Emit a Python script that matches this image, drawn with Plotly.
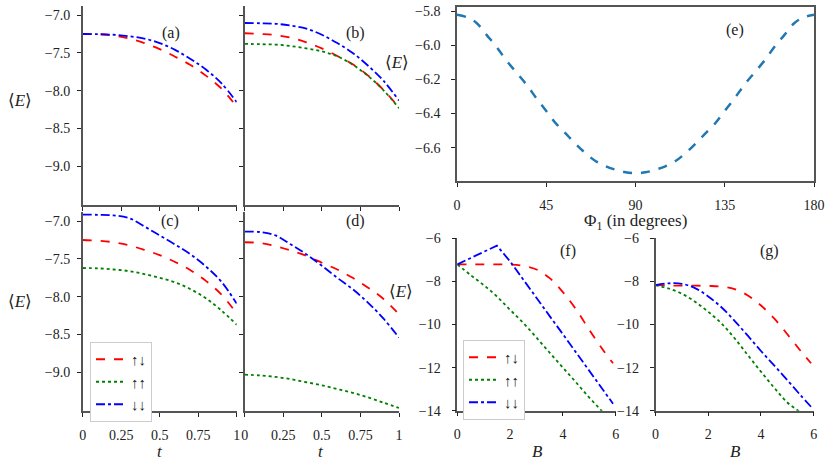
import plotly.graph_objects as go

# t panels (a)-(d)
t = [0, 0.1, 0.2, 0.3, 0.4, 0.5, 0.6, 0.7, 0.8, 0.9, 1.0]

a_ud = [-7.25, -7.255, -7.27, -7.31, -7.37, -7.45, -7.55, -7.66, -7.80, -7.97, -8.21]
a_dd = [-7.25, -7.252, -7.26, -7.28, -7.31, -7.37, -7.46, -7.58, -7.72, -7.90, -8.15]

b_ud = [-7.24, -7.25, -7.265, -7.30, -7.36, -7.44, -7.54, -7.65, -7.80, -7.99, -8.22]
b_uu = [-7.38, -7.385, -7.39, -7.41, -7.44, -7.48, -7.545, -7.655, -7.805, -7.995, -8.23]
b_dd = [-7.105, -7.108, -7.115, -7.14, -7.18, -7.26, -7.37, -7.50, -7.67, -7.87, -8.13]

c_ud = [-7.25, -7.26, -7.28, -7.32, -7.38, -7.45, -7.54, -7.65, -7.79, -7.97, -8.22]
c_uu = [-7.62, -7.625, -7.64, -7.66, -7.70, -7.75, -7.81, -7.90, -8.02, -8.18, -8.37]
c_dd = [-6.915, -6.917, -6.925, -6.96, -7.07, -7.19, -7.31, -7.44, -7.60, -7.80, -8.09]

d_ud = [-7.28, -7.29, -7.33, -7.39, -7.46, -7.55, -7.64, -7.75, -7.88, -8.03, -8.23]
d_uu = [-9.03, -9.04, -9.06, -9.09, -9.13, -9.17, -9.22, -9.27, -9.33, -9.40, -9.47]
d_dd = [-7.14, -7.145, -7.19, -7.31, -7.44, -7.59, -7.75, -7.90, -8.08, -8.29, -8.54]

# panel (e)
phi = list(range(0, 181, 5))
e_E = [-5.82, -5.835, -5.87, -5.94, -6.01, -6.09, -6.16, -6.23, -6.31, -6.385,
       -6.46, -6.52, -6.58, -6.635, -6.68, -6.71, -6.73, -6.745, -6.75,
       -6.745, -6.73, -6.71, -6.68, -6.635, -6.58, -6.52, -6.46, -6.385,
       -6.31, -6.23, -6.16, -6.09, -6.01, -5.94, -5.87, -5.835, -5.82]

# B panels (f), (g)
B = [0, 0.5, 1.0, 1.5, 2.0, 2.5, 3.0, 3.5, 4.0, 4.5, 5.0, 5.5, 5.9]

f_ud = [-7.21, -7.21, -7.21, -7.21, -7.22, -7.28, -7.45, -7.85, -8.50, -9.30, -10.25, -11.15, -11.8]
f_uu = [-7.21, -7.70, -8.17, -8.70, -9.32, -9.93, -10.61, -11.31, -12.00, -12.69, -13.39, -14.05, -14.6]
f_dd = [-7.21, -6.92, -6.63, -6.34, -7.07, -7.90, -8.76, -9.61, -10.45, -11.29, -12.14, -12.99, -13.68]

g_ud = [-8.17, -8.19, -8.20, -8.20, -8.21, -8.24, -8.36, -8.65, -9.12, -9.72, -10.45, -11.22, -11.8]
g_uu = [-8.17, -8.33, -8.57, -8.94, -9.41, -9.95, -10.64, -11.42, -12.19, -12.93, -13.62, -14.1, -14.7]
g_dd = [-8.17, -8.09, -8.11, -8.31, -8.70, -9.20, -9.83, -10.52, -11.23, -11.90, -12.58, -13.28, -13.82]

labels = ['↑↓', '↑↑', '↓↓']
colors = ['red', 'green', 'blue']
dashes = ['dash', 'dot', 'dashdot']

W, H = 831, 462
FONT = 'Liberation Serif, DejaVu Serif, serif'


def px(x):
    return x / W


def py(y):
    return 1 - y / H


fig = go.Figure()


def add_set(xs, series, ax, legend=None, shape='spline'):
    for i, ys in enumerate(series):
        if ys is None:
            continue
        fig.add_trace(go.Scatter(
            x=xs, y=ys, mode='lines', name=labels[i],
            line=dict(color=colors[i], dash=dashes[i], width=1.8, shape=shape),
            xaxis='x' + ax, yaxis='y' + ax,
            showlegend=legend is not None,
            legend=legend if legend else 'legend',
        ))


add_set(t, [a_ud, None, a_dd], '')
add_set(t, [b_ud, b_uu, b_dd], '2')
add_set(t, [c_ud, c_uu, c_dd], '3', legend='legend')
add_set(t, [d_ud, d_uu, d_dd], '4')
fig.add_trace(go.Scatter(x=phi, y=e_E, mode='lines', showlegend=False,
                         line=dict(color='#1f77b4', dash='dash', width=2.5, shape='spline'),
                         xaxis='x5', yaxis='y5'))
add_set(B, [f_ud, f_uu, None], '6', legend='legend2')
fig.add_trace(go.Scatter(x=B, y=f_dd, mode='lines', name=labels[2], legend='legend2',
                         line=dict(color='blue', dash='dashdot', width=1.8),
                         xaxis='x6', yaxis='y6'))
add_set(B, [g_ud, g_uu, g_dd], '7')


def axis(dom, rng, anchor, tickvals, ticktext=None, labels_on=True, mirror=False, gap=6):
    d = dict(domain=dom, range=rng, anchor=anchor, showline=True, linecolor='#555',
             linewidth=1.5, ticks='outside', ticklen=4, tickwidth=1.2, tickcolor='#222',
             showgrid=False, zeroline=False, tickvals=tickvals, automargin=False,
             showticklabels=labels_on, mirror=mirror, ticklabelstandoff=gap,
             tickfont=dict(family=FONT, size=14, color='#222'))
    if ticktext is not None:
        d['ticktext'] = ticktext
    return d


t_ticks = [0, 0.25, 0.5, 0.75, 1]
t_text = ['0', '0.25', '0.5', '0.75', '1']
E_ticks = [-7.0, -7.5, -8.0, -8.5, -9.0]
E_text = ['−7.0', '−7.5', '−8.0', '−8.5', '−9.0']
E_rng = [-9.51, -6.88]

xa = [px(82.7), px(236.7)]
xb = [px(244.7), px(399)]
ytop = [py(205), py(6)]
ybot = [py(411), py(212)]

B_ticks = [0, 2, 4, 6]
Bt_text = ['0', '2', '4', '6']
F_ticks = [-6, -8, -10, -12, -14]
F_text = ['−6', '−8', '−10', '−12', '−14']

leg_style = dict(xanchor='left', yanchor='top', bordercolor='#ccc', borderwidth=1,
                 bgcolor='white', tracegroupgap=0,
                 font=dict(family=FONT, size=15, color='#222'))

fig.update_layout(
    xaxis=axis(xa, [0, 1], 'y', t_ticks, labels_on=False),
    yaxis=axis(ytop, E_rng, 'x', E_ticks, E_text, gap=4),
    xaxis2=axis(xb, [0, 1], 'y2', t_ticks, labels_on=False),
    yaxis2=axis(ytop, E_rng, 'x2', E_ticks, labels_on=False),
    xaxis3=axis(xa, [0, 1], 'y3', t_ticks, t_text),
    yaxis3=axis(ybot, E_rng, 'x3', E_ticks, E_text, gap=4),
    xaxis4=axis(xb, [0, 1], 'y4', t_ticks, t_text),
    yaxis4=axis(ybot, E_rng, 'x4', E_ticks, labels_on=False),
    xaxis5=axis([px(457), px(814)], [0, 180], 'y5', [0, 45, 90, 135, 180],
                ['0', '45', '90', '135', '180'], mirror=True),
    yaxis5=axis([py(181), py(7)], [-6.796, -5.775], 'x5', [-5.8, -6.0, -6.2, -6.4, -6.6],
                ['−5.8', '−6.0', '−6.2', '−6.4', '−6.6'], mirror=True, gap=8),
    xaxis6=axis([px(457.3), px(615.7)], [0, 6], 'y6', B_ticks, Bt_text),
    yaxis6=axis([py(410.7), py(238.3)], [-14, -6], 'x6', F_ticks, F_text, gap=8),
    xaxis7=axis([px(655.5), px(813.7)], [0, 6], 'y7', B_ticks, Bt_text),
    yaxis7=axis([py(410.7), py(238.3)], [-14, -6], 'x7', F_ticks, F_text, gap=8),
    legend=dict(x=px(90), y=py(342), **leg_style),
    legend2=dict(x=px(463), y=py(340), **leg_style),
    width=W, height=H, autosize=False,
    margin=dict(l=0, r=0, t=0, b=0, pad=0),
    plot_bgcolor='white', paper_bgcolor='white',
    font=dict(family=FONT, color='#222'),
)

notes = [
    ('⟨<i>E</i>⟩', 20, 100, 17), ('⟨<i>E</i>⟩', 20, 301, 17),
    ('⟨<i>E</i>⟩', 397, 63, 17), ('⟨<i>E</i>⟩', 401, 291, 17),
    ('<i>t</i>', 160, 451, 17), ('<i>t</i>', 321, 451, 17),
    ('<i>B</i>', 537, 451, 17), ('<i>B</i>', 735, 451, 17),
    ('Φ<sub>1</sub> (in degrees)', 635, 222, 17),
    ('(a)', 171, 33, 16), ('(b)', 355, 33, 16),
    ('(c)', 170, 221, 16), ('(d)', 355, 221, 16),
    ('(e)', 735, 30, 16), ('(f)', 568, 251, 16), ('(g)', 769, 251, 16),
]
for txt, x, y, s in notes:
    fig.add_annotation(text=txt, x=px(x), y=py(y), xref='paper', yref='paper',
                       showarrow=False, xanchor='center', yanchor='middle',
                       font=dict(family=FONT, size=s, color='#222'))

fig.write_html('out.html', config={'displayModeBar': False},
               post_script="document.body.style.margin='0';")
